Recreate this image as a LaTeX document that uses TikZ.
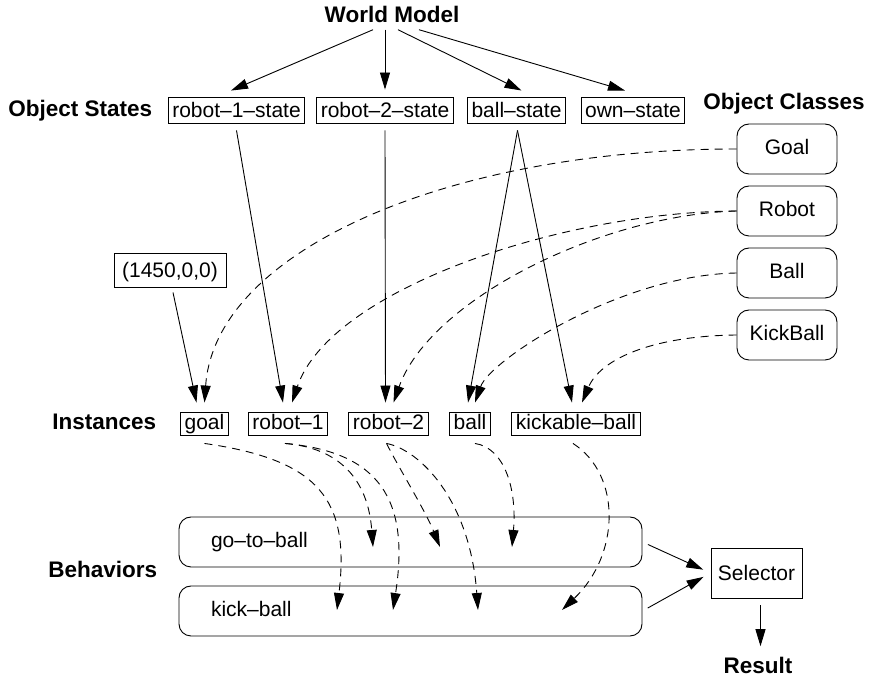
\documentclass[tikz,border=0pt]{standalone}
\usepackage{fontspec}
\setmainfont{Liberation Sans}
\usetikzlibrary{arrows.meta,calc}

\newcommand\txtfont{\fontsize{10.5}{12}\selectfont}
\newcommand\hdfont{\fontsize{11.25}{13}\selectfont\bfseries}

\tikzset{
  lbl/.style={font=\hdfont, inner sep=0pt},
  statebox/.style={draw, font=\txtfont, inner xsep=2pt, inner ysep=1pt, text height=9.5pt, text depth=1.5pt},
  instbox/.style={statebox, text height=8pt},
  classbox/.style={draw, rounded corners=6pt, font=\txtfont, minimum width=50pt, minimum height=25pt, text height=8pt, text depth=2pt},
  behbox/.style={draw, rounded corners=6pt, font=\txtfont, text width=199.5pt, inner xsep=16pt, minimum height=25pt, align=left, text height=8pt, text depth=2pt},
  arr/.style={-{Triangle[length=8.5pt,width=5pt]}},
  darr/.style={arr, dash pattern=on 4pt off 3pt},
}

\begin{document}
\begin{tikzpicture}[x=0.5pt, y=-0.5pt, line width=0.45pt]
    \useasboundingbox (0,0) rectangle (875,679);

    % row labels
    \node[lbl] (wm) at (392,14) {World Model};
    \node[lbl, anchor=base west] (oslbl) at (8,117) {Object States};
    \node[lbl, anchor=base west] (oclbl) at (703,110) {Object Classes};
    \node[lbl, anchor=base west] (inlbl) at (52,430) {Instances};
    \node[lbl, anchor=base west] (bhlbl) at (48,578) {Behaviors};
    \node[lbl, anchor=base] (res) at (758,674) {Result};

    % object states
    \node[statebox] (r1s) at (236.5,110) {robot–1–state};
    \node[statebox] (r2s) at (385,110) {robot–2–state};
    \node[statebox] (bs) at (516.5,110) {ball–state};
    \node[statebox] (ows) at (633,110) {own–state};

    % object classes
    \node[classbox] (goalc) at (787,149) {Goal};
    \node[classbox] (robc) at (787,211) {Robot};
    \node[classbox] (ballc) at (787,273) {Ball};
    \node[classbox] (kickc) at (787,335) {KickBall};

    \node[statebox, minimum width=56pt, minimum height=17pt, inner xsep=4pt] (pos) at (170,270) {(1450,0,0)};

    % instances
    \node[instbox] (goal) at (204.5,423.5) {goal};
    \node[instbox] (r1) at (288,423.5) {robot–1};
    \node[instbox] (r2) at (388.5,423.5) {robot–2};
    \node[instbox] (ball) at (470,423.5) {ball};
    \node[instbox] (kb) at (576,423.5) {kickable–ball};

    % behaviors
    \node[behbox] (gtb) at (410.5,542) {go–to–ball};
    \node[behbox] (kbb) at (410.5,611) {kick–ball};
    \node[statebox, minimum height=25pt, inner xsep=3.5pt] (sel) at (756.5,573) {Selector};

    \draw[arr] ($(wm.south)+(-19,7)$) -- ($(r1s.north)+(-5.5,-6)$);
    \draw[arr] ($(wm.south)+(-7,7)$) -- ($(r2s.north)+(0,-7)$);
    \draw[arr] ($(wm.south)+(6,7)$) -- ($(bs.north)+(5,-6)$);
    \draw[arr] ($(wm.south)+(27,7)$) -- ($(ows.north)+(-8,-6)$);

    \draw[arr] ($(r1s.south)+(0,7)$) -- ($(r1.north)+(-5,-9)$);
    \draw[arr] ($(r2s.south)+(0,7)$) -- ($(r2.north)+(-3,-9)$);
    \draw[arr] ($(bs.south)+(1,7)$) -- ($(ball.north)+(-2,-9)$);
    \draw[arr] ($(bs.south)+(1,7)$) -- ($(kb.north)+(-4,-9)$);
    \draw[arr] ($(pos.south)+(3,5)$) -- ($(goal.north)+(-8,-9)$);

    \draw[darr] (goalc.west) .. controls (450,149) and (215,250) .. ($(goal.north)+(0,-9)$);
    \draw[darr] (robc.west) .. controls (560,212) and (330,290) .. ($(r1.north)+(4,-9)$);
    \draw[darr] (robc.west) .. controls (600,215) and (430,300) .. ($(r2.north)+(5,-9)$);
    \draw[darr] (ballc.west) .. controls (620,275) and (490,360) .. ($(ball.north)+(5,-9)$);
    \draw[darr] (kickc.west) .. controls (650,336) and (600,360) .. ($(kb.north)+(6,-9)$);

    % arrow ends inside the behavior boxes
    \coordinate (gt1) at (373,547);
    \coordinate (gt2) at (440,547);
    \coordinate (gt3) at (512,547);
    \coordinate (kk1) at (337,610);
    \coordinate (kk2) at (393,610);
    \coordinate (kk3) at (478,610);
    \coordinate (kk4) at (562,610);

    \draw[darr] ($(goal.south)+(0,8)$) .. controls (320,460) and (350,500) .. (kk1);
    \draw[darr] ($(r1.south)+(-3,8)$) .. controls (340,448) and (368,480) .. (gt1);
    \draw[darr] ($(r1.south)+(-3,8)$) .. controls (380,452) and (410,500) .. (kk2);
    \draw[darr] ($(r2.south)+(-2,8)$) .. controls (400,470) and (425,510) .. (gt2);
    \draw[darr] ($(r2.south)+(-2,8)$) .. controls (420,450) and (470,500) .. (kk3);
    \draw[darr] ($(ball.south)+(5,8)$) .. controls (505,448) and (517,490) .. (gt3);
    \draw[darr] ($(kb.south)+(-3,8)$) .. controls (622,475) and (620,555) .. (kk4);

    \draw[arr, shorten <=3pt, shorten >=4pt] (gtb.east) -- (sel.west);
    \draw[arr, shorten <=3pt, shorten >=4pt] (kbb.east) -- (sel.west);
    \draw[arr, shorten <=3.5pt, shorten >=5.5pt] ($(sel.south)+(4,0)$) -- ($(sel.south |- res.north)+(4,0)$);
\end{tikzpicture}
\end{document}
